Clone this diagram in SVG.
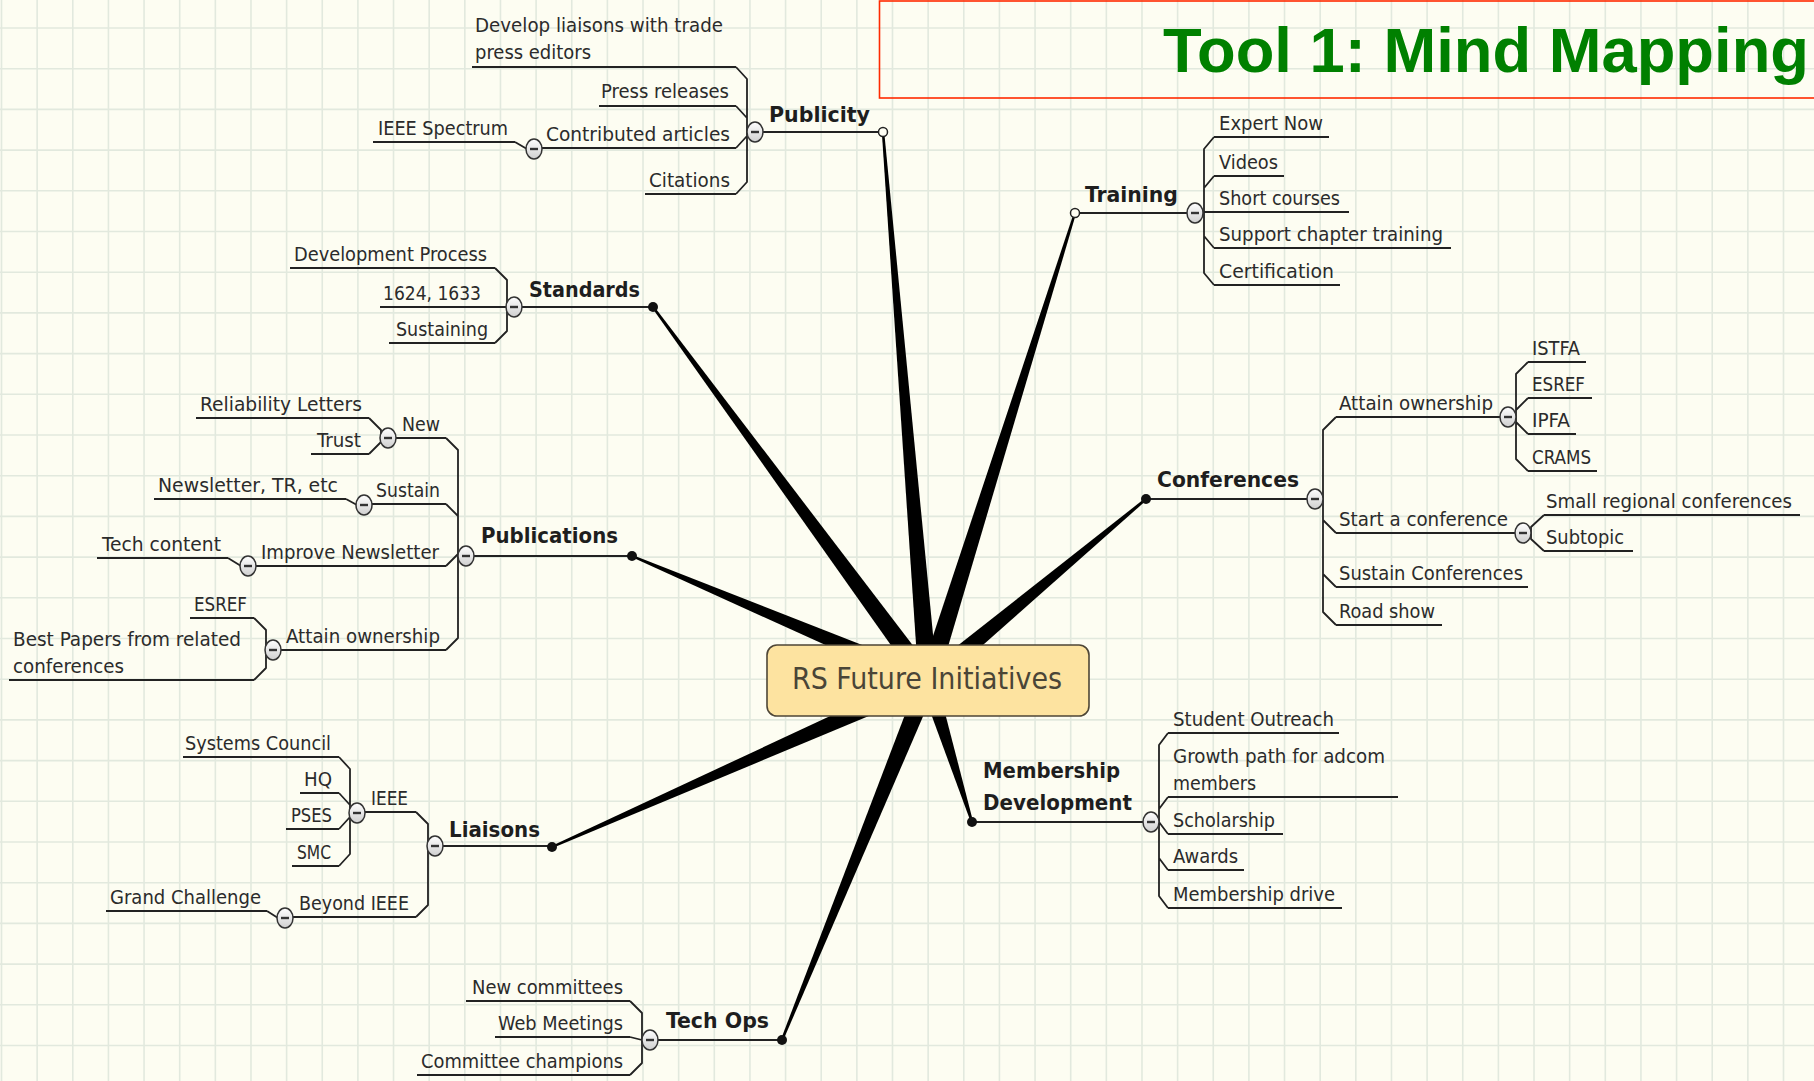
<svg xmlns="http://www.w3.org/2000/svg" xmlns:xlink="http://www.w3.org/1999/xlink" width="1814" height="1081" viewBox="0 0 1814 1081">
<style>
.t{font-family:"DejaVu Sans Condensed","DejaVu Sans",sans-serif;font-stretch:condensed;font-size:19px;fill:#2b2b2b}
.b{font-family:"DejaVu Sans Condensed","DejaVu Sans",sans-serif;font-stretch:condensed;font-size:22px;font-weight:bold;fill:#1e1e1e}
.c{font-family:"DejaVu Sans Condensed","DejaVu Sans",sans-serif;font-stretch:condensed;font-size:30px;fill:#4a4537}
.title{font-family:"Liberation Sans",Arial,sans-serif;font-size:63px;font-weight:bold;fill:#008000}
.ul{fill:none;stroke:#222;stroke-width:1.8}
.sp{fill:none;stroke:#222;stroke-width:1.8;stroke-linejoin:round}
.wedge{fill:#000}
.dot{fill:#111}
.odot{fill:#fffff4;stroke:#222;stroke-width:1.5}
.grid{fill:none;stroke:#e2e9de;stroke-width:1.6}
</style>
<defs>
<linearGradient id="cg" x1="0" y1="0" x2="0" y2="1">
<stop offset="0" stop-color="#ffffff"/>
<stop offset="1" stop-color="#cfcfcf"/>
</linearGradient>
<g id="col">
<ellipse rx="8" ry="10" fill="url(#cg)" stroke="#333" stroke-width="1.5"/>
<path d="M-4,0H4" stroke="#333" stroke-width="2.4"/>
</g>
</defs>
<rect width="1814" height="1081" fill="#fdfdf2"/>
<path class="grid" d="M1.5,0V1081M37.14,0V1081M72.78,0V1081M108.42,0V1081M144.06,0V1081M179.7,0V1081M215.34,0V1081M250.98,0V1081M286.62,0V1081M322.26,0V1081M357.9,0V1081M393.54,0V1081M429.18,0V1081M464.82,0V1081M500.46,0V1081M536.1,0V1081M571.74,0V1081M607.38,0V1081M643.02,0V1081M678.66,0V1081M714.3,0V1081M749.94,0V1081M785.58,0V1081M821.22,0V1081M856.86,0V1081M892.5,0V1081M928.14,0V1081M963.78,0V1081M999.42,0V1081M1035.06,0V1081M1070.7,0V1081M1106.34,0V1081M1141.98,0V1081M1177.62,0V1081M1213.26,0V1081M1248.9,0V1081M1284.54,0V1081M1320.18,0V1081M1355.82,0V1081M1391.46,0V1081M1427.1,0V1081M1462.74,0V1081M1498.38,0V1081M1534.02,0V1081M1569.66,0V1081M1605.3,0V1081M1640.94,0V1081M1676.58,0V1081M1712.22,0V1081M1747.86,0V1081M1783.5,0V1081M0,28H1814M0,68.7H1814M0,109.4H1814M0,150.1H1814M0,190.8H1814M0,231.5H1814M0,272.2H1814M0,312.9H1814M0,353.6H1814M0,394.3H1814M0,435H1814M0,475.7H1814M0,516.4H1814M0,557.1H1814M0,597.8H1814M0,638.5H1814M0,679.2H1814M0,719.9H1814M0,760.6H1814M0,801.3H1814M0,842H1814M0,882.7H1814M0,923.4H1814M0,964.1H1814M0,1004.8H1814M0,1045.5H1814"/>

<g id="title">
<rect x="879.5" y="1" width="945" height="97" fill="none" stroke="#ff2a00" stroke-width="1.6"/>
<text class="title" x="1163" y="72" textLength="646" lengthAdjust="spacingAndGlyphs">Tool 1: Mind Mapping</text>
</g>

<g id="connectors">
<polygon class="wedge" points="937.47,680.22 884.2,131.9 881.8,132.1 918.53,681.78"/>
<polygon class="wedge" points="937.06,683.85 1076.14,213.36 1073.86,212.64 918.94,678.15"/>
<polygon class="wedge" points="935.65,675.37 653.97,306.29 652.03,307.71 920.35,686.63"/>
<polygon class="wedge" points="931.7,672.25 632.47,554.89 631.53,557.11 924.3,689.75"/>
<polygon class="wedge" points="934.09,688.29 1146.77,499.92 1145.23,498.08 921.91,673.71"/>
<polygon class="wedge" points="919.9,683.5 970.85,822.36 973.15,821.64 936.1,678.5"/>
<polygon class="wedge" points="924.16,672.31 551.52,845.9 552.48,848.1 931.84,689.69"/>
<polygon class="wedge" points="919.2,677.42 780.89,1039.55 783.11,1040.45 936.8,684.58"/>
<path class="sp" d="M736,67L747,79V182L736,194M736,106L747,118M736,148L747,136M515,142L527,149"/>
<path class="sp" d="M495,268L507,280V331L495,343"/>
<path class="sp" d="M446,438L458,450V638L446,650M446,504L458,516M446,566L458,554M369,418L381,430V442L369,454M346,499L357,505M228,558L241,566M254,618L266,630V668L254,680"/>
<path class="sp" d="M1214,137L1204,149V273L1214,285M1214,176L1204,188M1214,248L1204,236"/>
<path class="sp" d="M1336,417L1323,430V612L1336,625M1336,533L1323,520M1336,587L1323,574M1528,362L1516,374V459L1528,471M1528,398L1516,410M1528,434L1516,422M1544,515L1531,527V539L1544,551"/>
<path class="sp" d="M1168,733L1159,745V896L1168,908M1168,797L1159,809M1168,834L1159,822M1168,870L1159,858"/>
<path class="sp" d="M416,812L428,824V905L416,917M339,757L350,769V854L339,866M339,793L350,805M339,829L350,817M267,911L278,918"/>
<path class="sp" d="M630,1001L642,1013V1063L630,1075M630,1037L642,1040"/>
</g>

<g id="n-publicity">
<path class="ul" d="M763,132H883M472,67H736M599,106H736M542,148H736M645,194H736M373,142H515"/>
<text class="b" x="769" y="122" textLength="101" lengthAdjust="spacingAndGlyphs">Publicity</text>
<text class="t" x="475" y="32" textLength="248" lengthAdjust="spacingAndGlyphs">Develop liaisons with trade</text>
<text class="t" x="475" y="59" textLength="116" lengthAdjust="spacingAndGlyphs">press editors</text>
<text class="t" x="601" y="98" textLength="128" lengthAdjust="spacingAndGlyphs">Press releases</text>
<text class="t" x="546" y="141" textLength="184" lengthAdjust="spacingAndGlyphs">Contributed articles</text>
<text class="t" x="649" y="187" textLength="81" lengthAdjust="spacingAndGlyphs">Citations</text>
<text class="t" x="378" y="135" textLength="130" lengthAdjust="spacingAndGlyphs">IEEE Spectrum</text>
<use xlink:href="#col" transform="translate(534,149)"/>
<use xlink:href="#col" transform="translate(755,132)"/>
<circle class="odot" cx="883" cy="132" r="4.5"/>
</g>

<g id="n-training">
<path class="ul" d="M1075,213H1187M1214,137H1329M1214,176H1284M1204,212H1349M1214,248H1451M1214,285H1340"/>
<text class="b" x="1085" y="202" textLength="93" lengthAdjust="spacingAndGlyphs">Training</text>
<text class="t" x="1219" y="130" textLength="104" lengthAdjust="spacingAndGlyphs">Expert Now</text>
<text class="t" x="1219" y="169" textLength="59" lengthAdjust="spacingAndGlyphs">Videos</text>
<text class="t" x="1219" y="205" textLength="121" lengthAdjust="spacingAndGlyphs">Short courses</text>
<text class="t" x="1219" y="241" textLength="224" lengthAdjust="spacingAndGlyphs">Support chapter training</text>
<text class="t" x="1219" y="278" textLength="115" lengthAdjust="spacingAndGlyphs">Certification</text>
<use xlink:href="#col" transform="translate(1195,213)"/>
<circle class="odot" cx="1075" cy="213" r="4.5"/>
</g>

<g id="n-standards">
<path class="ul" d="M522,307H653M290,268H495M380,307H506M389,343H495"/>
<text class="b" x="529" y="297" textLength="111" lengthAdjust="spacingAndGlyphs">Standards</text>
<text class="t" x="294" y="261" textLength="193" lengthAdjust="spacingAndGlyphs">Development Process</text>
<text class="t" x="383" y="300" textLength="98" lengthAdjust="spacingAndGlyphs">1624, 1633</text>
<text class="t" x="396" y="336" textLength="92" lengthAdjust="spacingAndGlyphs">Sustaining</text>
<use xlink:href="#col" transform="translate(514,307)"/>
<circle class="dot" cx="653" cy="307" r="5"/>
</g>

<g id="n-publications">
<path class="ul" d="M474,556H632M396,438H446M372,504H446M256,566H446M281,650H446M196,418H369M311,454H369M154,499H346M97,558H228M190,618H254M9,680H254"/>
<text class="b" x="481" y="543" textLength="137" lengthAdjust="spacingAndGlyphs">Publications</text>
<text class="t" x="402" y="431" textLength="38" lengthAdjust="spacingAndGlyphs">New</text>
<text class="t" x="200" y="411" textLength="162" lengthAdjust="spacingAndGlyphs">Reliability Letters</text>
<text class="t" x="317" y="447" textLength="44" lengthAdjust="spacingAndGlyphs">Trust</text>
<text class="t" x="376" y="497" textLength="64" lengthAdjust="spacingAndGlyphs">Sustain</text>
<text class="t" x="158" y="492" textLength="180" lengthAdjust="spacingAndGlyphs">Newsletter, TR, etc</text>
<text class="t" x="261" y="559" textLength="178" lengthAdjust="spacingAndGlyphs">Improve Newsletter</text>
<text class="t" x="102" y="551" textLength="119" lengthAdjust="spacingAndGlyphs">Tech content</text>
<text class="t" x="286" y="643" textLength="154" lengthAdjust="spacingAndGlyphs">Attain ownership</text>
<text class="t" x="194" y="611" textLength="53" lengthAdjust="spacingAndGlyphs">ESREF</text>
<text class="t" x="13" y="646" textLength="228" lengthAdjust="spacingAndGlyphs">Best Papers from related</text>
<text class="t" x="13" y="673" textLength="111" lengthAdjust="spacingAndGlyphs">conferences</text>
<use xlink:href="#col" transform="translate(388,438)"/>
<use xlink:href="#col" transform="translate(364,505)"/>
<use xlink:href="#col" transform="translate(248,566)"/>
<use xlink:href="#col" transform="translate(273,650)"/>
<use xlink:href="#col" transform="translate(466,556)"/>
<circle class="dot" cx="632" cy="556" r="5"/>
</g>

<g id="n-conferences">
<path class="ul" d="M1146,499H1307M1336,417H1500M1336,533H1515M1336,587H1528M1336,625H1442M1528,362H1586M1528,398H1592M1528,434H1576M1528,471H1597M1544,515H1800M1544,551H1633"/>
<text class="b" x="1157" y="487" textLength="142" lengthAdjust="spacingAndGlyphs">Conferences</text>
<text class="t" x="1339" y="410" textLength="154" lengthAdjust="spacingAndGlyphs">Attain ownership</text>
<text class="t" x="1532" y="355" textLength="48" lengthAdjust="spacingAndGlyphs">ISTFA</text>
<text class="t" x="1532" y="391" textLength="53" lengthAdjust="spacingAndGlyphs">ESREF</text>
<text class="t" x="1532" y="427" textLength="38" lengthAdjust="spacingAndGlyphs">IPFA</text>
<text class="t" x="1532" y="464" textLength="59" lengthAdjust="spacingAndGlyphs">CRAMS</text>
<text class="t" x="1339" y="526" textLength="169" lengthAdjust="spacingAndGlyphs">Start a conference</text>
<text class="t" x="1546" y="508" textLength="246" lengthAdjust="spacingAndGlyphs">Small regional conferences</text>
<text class="t" x="1546" y="544" textLength="78" lengthAdjust="spacingAndGlyphs">Subtopic</text>
<text class="t" x="1339" y="580" textLength="184" lengthAdjust="spacingAndGlyphs">Sustain Conferences</text>
<text class="t" x="1339" y="618" textLength="96" lengthAdjust="spacingAndGlyphs">Road show</text>
<use xlink:href="#col" transform="translate(1508,417)"/>
<use xlink:href="#col" transform="translate(1523,533)"/>
<use xlink:href="#col" transform="translate(1315,499)"/>
<circle class="dot" cx="1146" cy="499" r="5"/>
</g>

<g id="n-membership">
<path class="ul" d="M972,822H1143M1168,733H1339M1168,797H1398M1168,834H1283M1168,870H1244M1168,908H1342"/>
<text class="b" x="983" y="778" textLength="137" lengthAdjust="spacingAndGlyphs">Membership</text>
<text class="b" x="983" y="810" textLength="149" lengthAdjust="spacingAndGlyphs">Development</text>
<text class="t" x="1173" y="726" textLength="161" lengthAdjust="spacingAndGlyphs">Student Outreach</text>
<text class="t" x="1173" y="763" textLength="212" lengthAdjust="spacingAndGlyphs">Growth path for adcom</text>
<text class="t" x="1173" y="790" textLength="83" lengthAdjust="spacingAndGlyphs">members</text>
<text class="t" x="1173" y="827" textLength="102" lengthAdjust="spacingAndGlyphs">Scholarship</text>
<text class="t" x="1173" y="863" textLength="65" lengthAdjust="spacingAndGlyphs">Awards</text>
<text class="t" x="1173" y="901" textLength="162" lengthAdjust="spacingAndGlyphs">Membership drive</text>
<use xlink:href="#col" transform="translate(1151,822)"/>
<circle class="dot" cx="972" cy="822" r="5"/>
</g>

<g id="n-liaisons">
<path class="ul" d="M443,846H552M365,812H416M293,917H416M183,757H339M300,793H339M286,829H339M292,866H339M106,911H267"/>
<text class="b" x="449" y="837" textLength="91" lengthAdjust="spacingAndGlyphs">Liaisons</text>
<text class="t" x="371" y="805" textLength="37" lengthAdjust="spacingAndGlyphs">IEEE</text>
<text class="t" x="185" y="750" textLength="146" lengthAdjust="spacingAndGlyphs">Systems Council</text>
<text class="t" x="304" y="786" textLength="28" lengthAdjust="spacingAndGlyphs">HQ</text>
<text class="t" x="291" y="822" textLength="41" lengthAdjust="spacingAndGlyphs">PSES</text>
<text class="t" x="297" y="859" textLength="34" lengthAdjust="spacingAndGlyphs">SMC</text>
<text class="t" x="299" y="910" textLength="110" lengthAdjust="spacingAndGlyphs">Beyond IEEE</text>
<text class="t" x="110" y="904" textLength="151" lengthAdjust="spacingAndGlyphs">Grand Challenge</text>
<use xlink:href="#col" transform="translate(357,813)"/>
<use xlink:href="#col" transform="translate(285,918)"/>
<use xlink:href="#col" transform="translate(435,846)"/>
<circle class="dot" cx="552" cy="847" r="5"/>
</g>

<g id="n-techops">
<path class="ul" d="M658,1040H782M466,1001H630M495,1037H630M417,1075H630"/>
<text class="b" x="666" y="1028" textLength="103" lengthAdjust="spacingAndGlyphs">Tech Ops</text>
<text class="t" x="472" y="994" textLength="151" lengthAdjust="spacingAndGlyphs">New committees</text>
<text class="t" x="498" y="1030" textLength="125" lengthAdjust="spacingAndGlyphs">Web Meetings</text>
<text class="t" x="421" y="1068" textLength="202" lengthAdjust="spacingAndGlyphs">Committee champions</text>
<use xlink:href="#col" transform="translate(650,1040)"/>
<circle class="dot" cx="782" cy="1040" r="5"/>
</g>

<g id="n-center">
<rect x="767" y="645" width="322" height="71" rx="10" fill="#fde3a0" stroke="#4e4636" stroke-width="1.6"/>
<text class="c" x="792" y="689" textLength="270" lengthAdjust="spacingAndGlyphs">RS Future Initiatives</text>
</g>
</svg>
